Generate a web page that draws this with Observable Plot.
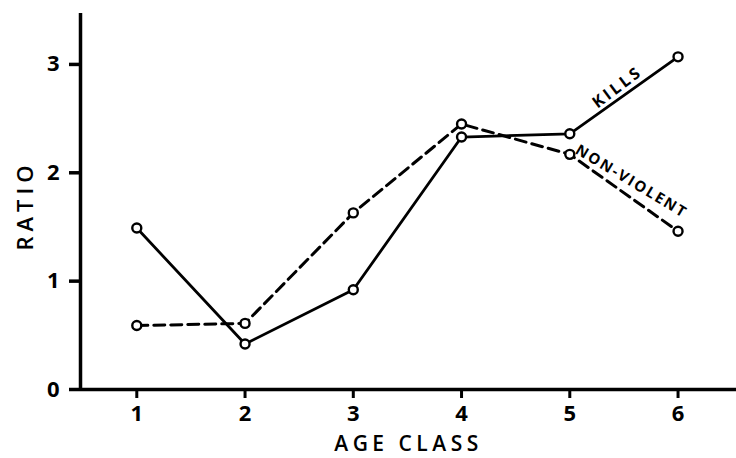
<!DOCTYPE html>
<html>
<head>
<meta charset="utf-8">
<script src="https://cdn.jsdelivr.net/npm/d3@7"></script>
<script src="https://cdn.jsdelivr.net/npm/@observablehq/plot@0.6"></script>
<style>
  html, body { margin: 0; padding: 0; background: #fff; }
  #chart svg { display: block; }
</style>
</head>
<body>
<div id="chart"></div>
<script>
const ageClasses = [1, 2, 3, 4, 5, 6];
const kills      = [1.49, 0.42, 0.92, 2.33, 2.36, 3.07];
const nonViolent = [0.59, 0.61, 1.63, 2.45, 2.17, 1.46];
const yTicks = [0, 1, 2, 3];
const xLabel = "AGE CLASS";
const yLabel = "RATIO";
const seriesLabels = ["KILLS", "NON-VIOLENT"];

const killsData = ageClasses.map((a, i) => ({age: a, ratio: kills[i]}));
const nvData = ageClasses.map((a, i) => ({age: a, ratio: nonViolent[i]}));

const font = "'Open Sans', 'DejaVu Sans', sans-serif";
const xMin = 0.48, xMax = 6.54, yMax = 3.47;

const chart = Plot.plot({
  width: 736,
  height: 458,
  marginLeft: 80,
  marginRight: 0,
  marginTop: 13,
  marginBottom: 69,
  style: {fontFamily: font, background: "#fff", color: "#000"},
  x: {domain: [xMin, xMax]},
  y: {domain: [0, yMax]},
  marks: [
    Plot.ruleY([0], {stroke: "#000", strokeWidth: 3.5}),
    Plot.ruleX([xMin], {stroke: "#000", strokeWidth: 3.5}),
    Plot.axisX({ticks: ageClasses, tickSize: 9, tickPadding: 7, strokeWidth: 3,
      fontSize: 22, fontWeight: "bold", label: null, tickFormat: d3.format("d")}),
    Plot.axisY({ticks: yTicks, tickSize: 11, tickPadding: 10, strokeWidth: 3.5,
      fontSize: 22, fontWeight: "bold", label: null, tickFormat: d3.format("d")}),
    Plot.text([xLabel], {frameAnchor: "bottom", textAnchor: "middle", lineAnchor: "middle",
      dy: 55, dx: 0, fontSize: 21, fontWeight: "600", className: "lbl-x"}),
    Plot.text([yLabel], {frameAnchor: "left", textAnchor: "middle", lineAnchor: "middle",
      dx: -55, dy: 4, rotate: -90, fontSize: 22, fontWeight: "600", className: "lbl-y"}),
    Plot.line(nvData, {x: "age", y: "ratio", stroke: "#000", strokeWidth: 3,
      strokeDasharray: "11,6"}),
    Plot.line(killsData, {x: "age", y: "ratio", stroke: "#000", strokeWidth: 2.8}),
    Plot.dot(killsData, {x: "age", y: "ratio", r: 4.5, fill: "#fff", stroke: "#000", strokeWidth: 2.4}),
    Plot.dot(nvData, {x: "age", y: "ratio", r: 4.5, fill: "#fff", stroke: "#000", strokeWidth: 2.4}),
    Plot.text([seriesLabels[0]], {x: 5.44, y: 2.79, rotate: -37, fontSize: 16, fontWeight: "bold",
      className: "lbl-kills"}),
    Plot.text([seriesLabels[1]], {x: 5.57, y: 1.92, rotate: 31, fontSize: 15, fontWeight: "bold",
      className: "lbl-nv"})
  ]
});
const svg = d3.select(chart);
svg.selectAll(".lbl-x text").attr("letter-spacing", "4.5px");
svg.selectAll(".lbl-y text").attr("letter-spacing", "5px");
svg.selectAll(".lbl-kills text").attr("letter-spacing", "3px");
svg.selectAll(".lbl-nv text").attr("letter-spacing", "2px");
document.getElementById("chart").appendChild(chart);
</script>
</body>
</html>
